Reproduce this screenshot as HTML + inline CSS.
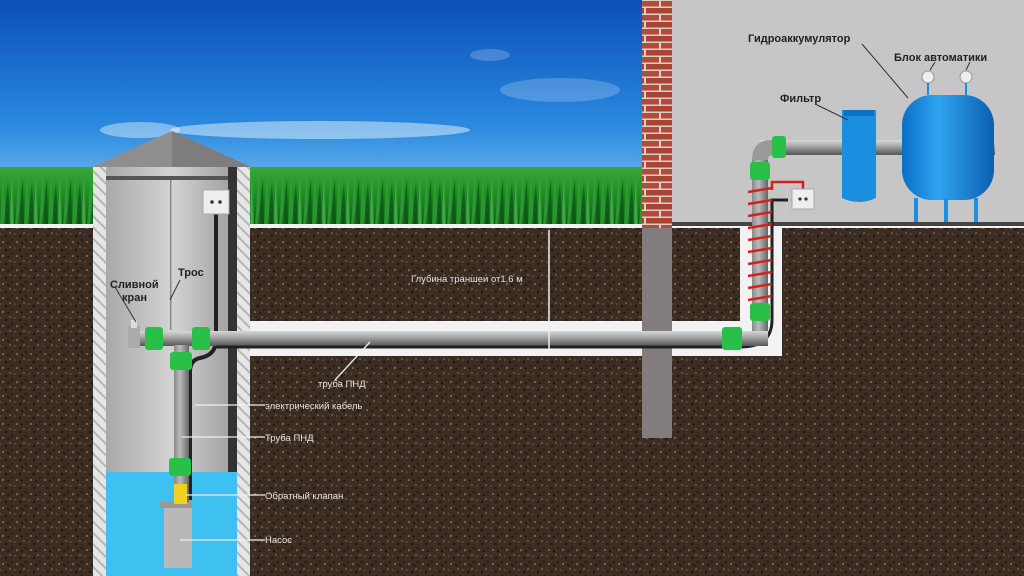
<!DOCTYPE html>
<html><head><meta charset="utf-8"><style>
html,body{margin:0;padding:0;width:1024px;height:576px;overflow:hidden}
svg{display:block}
text{font-family:"Liberation Sans",sans-serif}
</style></head><body>
<svg width="1024" height="576" viewBox="0 0 1024 576" xmlns="http://www.w3.org/2000/svg">
<defs>
<linearGradient id="sky" x1="0" y1="0" x2="0" y2="1">
<stop offset="0" stop-color="#0b4fb8"/><stop offset="0.55" stop-color="#2a8ae0"/><stop offset="1" stop-color="#9fd3f3"/></linearGradient>
<linearGradient id="grass" x1="0" y1="0" x2="0" y2="1">
<stop offset="0" stop-color="#3aa83a"/><stop offset="0.5" stop-color="#1f8a25"/><stop offset="1" stop-color="#0f5a18"/></linearGradient>
<pattern id="blades" width="24" height="58" patternUnits="userSpaceOnUse" x="0" y="167">
<rect width="24" height="58" fill="url(#grass)"/>
<path d="M0 58 L3 2 L6 58 Z M8 58 L13 8 L14 58 Z M15 58 L19 0 L21 58 Z" fill="#2fa035" opacity="0.8"/>
<path d="M4 58 L8 14 L10 58 Z M18 58 L23 10 L24 58 Z" fill="#0c4f14" opacity="0.7"/>
<path d="M11 58 L11 4 L13 58 Z" fill="#5cc050" opacity="0.6"/>
</pattern>
<linearGradient id="pipeH" x1="0" y1="0" x2="0" y2="1">
<stop offset="0" stop-color="#d8d8d8"/><stop offset="0.4" stop-color="#a8a8a8"/><stop offset="1" stop-color="#555"/></linearGradient>
<linearGradient id="pipeV" x1="0" y1="0" x2="1" y2="0">
<stop offset="0" stop-color="#888"/><stop offset="0.4" stop-color="#bbb"/><stop offset="1" stop-color="#666"/></linearGradient>
<linearGradient id="well" x1="0" y1="0" x2="1" y2="0">
<stop offset="0" stop-color="#a9a9a9"/><stop offset="0.5" stop-color="#d3d3d3"/><stop offset="1" stop-color="#9c9c9c"/></linearGradient>
<linearGradient id="tank" x1="0" y1="0" x2="1" y2="0">
<stop offset="0" stop-color="#0a6fc8"/><stop offset="0.4" stop-color="#2fa4f0"/><stop offset="1" stop-color="#0a5fb0"/></linearGradient>
<pattern id="hatch" width="8" height="8" patternUnits="userSpaceOnUse" patternTransform="rotate(-45)">
<rect width="8" height="8" fill="#e6e6e6"/><rect width="2" height="8" fill="#b5b5b5"/></pattern>
<pattern id="soil" width="14" height="14" patternUnits="userSpaceOnUse">
<rect width="14" height="14" fill="#3c2d23"/><circle cx="3" cy="4" r="1" fill="#8a7058"/><circle cx="10" cy="9" r="0.8" fill="#9c8268"/><circle cx="6" cy="12" r="1.2" fill="#1e1510"/><circle cx="12" cy="2" r="1" fill="#1e1510"/><circle cx="1" cy="10" r="0.7" fill="#7a6048"/><circle cx="8" cy="5" r="1.3" fill="#241a13"/></pattern>
<pattern id="brick" width="30" height="14" patternUnits="userSpaceOnUse">
<rect width="30" height="14" fill="#d9d0c8"/><rect x="1" y="1" width="28" height="5.5" fill="#b54a38"/><rect x="-14" y="8" width="28" height="5.5" fill="#a84432"/><rect x="16" y="8" width="28" height="5.5" fill="#a84432"/></pattern>
</defs>
<rect width="1024" height="230" fill="url(#sky)"/>
<ellipse cx="320" cy="130" rx="150" ry="9" fill="#fff" opacity="0.45"/>
<ellipse cx="140" cy="130" rx="40" ry="8" fill="#fff" opacity="0.4"/>
<ellipse cx="560" cy="90" rx="60" ry="12" fill="#fff" opacity="0.2"/>
<ellipse cx="490" cy="55" rx="20" ry="6" fill="#fff" opacity="0.2"/>
<rect x="0" y="167" width="1024" height="58" fill="url(#blades)"/>
<rect x="0" y="228" width="1024" height="348" fill="url(#soil)"/>
<rect x="0" y="224" width="1024" height="4" fill="#f2f2f2"/>
<rect x="672" y="0" width="352" height="222" fill="#c6c6c6"/>
<rect x="672" y="222" width="352" height="4" fill="#444"/>
<rect x="642" y="0" width="30" height="228" fill="url(#brick)"/>
<rect x="642" y="228" width="30" height="210" fill="#827c7c"/>
<rect x="250" y="321" width="392" height="35" fill="#f2f2f2"/>
<rect x="672" y="321" width="110" height="35" fill="#f2f2f2"/>
<rect x="740" y="228" width="42" height="128" fill="#f2f2f2"/>
<rect x="93" y="167" width="157" height="409" fill="url(#hatch)"/>
<rect x="106" y="167" width="131" height="409" fill="url(#well)"/>
<rect x="106" y="176" width="131" height="4" fill="#555"/>
<rect x="228" y="167" width="9" height="305" fill="#333"/>
<rect x="106" y="472" width="131" height="104" fill="#3ec0f0"/>
<rect x="170" y="180" width="1.5" height="150" fill="#888"/>
<polygon points="92,167 172,131 251,167" fill="#8e8e8e"/>
<polygon points="172,131 251,167 172,167" fill="#7d7d7d"/>
<path d="M216 210 V340 Q216 355 200 358 Q190 360 190 372 V500" stroke="#222" stroke-width="4" fill="none"/>
<rect x="203" y="190" width="26" height="24" fill="#eee" stroke="#aaa"/>
<circle cx="212" cy="202" r="1.8" fill="#333"/><circle cx="220" cy="202" r="1.8" fill="#333"/>
<rect x="140" y="331" width="595" height="15" fill="url(#pipeH)"/>
<path d="M216 347 H740" stroke="#222" stroke-width="3"/>
<path d="M740 347 Q772 347 772 320 V200 H788" stroke="#222" stroke-width="3" fill="none"/>
<rect x="174" y="345" width="15" height="160" fill="url(#pipeV)"/>
<rect x="164" y="502" width="28" height="66" fill="#b8b8b8"/>
<rect x="160" y="502" width="32" height="6" fill="#999"/>
<rect x="174" y="484" width="13" height="20" fill="#f0d020"/>
<rect x="145" y="327" width="18" height="23" rx="3" fill="#29c04a"/>
<rect x="192" y="327" width="18" height="23" rx="3" fill="#29c04a"/>
<rect x="170" y="352" width="22" height="18" rx="3" fill="#29c04a"/>
<rect x="169" y="458" width="22" height="18" rx="3" fill="#29c04a"/>
<rect x="128" y="326" width="12" height="22" fill="#aaa"/>
<rect x="131" y="320" width="6" height="8" fill="#ddd"/>
<rect x="752" y="160" width="16" height="175" fill="url(#pipeV)"/>
<rect x="735" y="331" width="33" height="15" fill="url(#pipeH)"/>
<rect x="760" y="140" width="235" height="15" fill="url(#pipeH)"/>
<path d="M752 160 Q752 140 772 140 L772 155 Q768 155 768 160 Z" fill="#999"/>
<g stroke="#d42020" stroke-width="2.5" fill="none">
<path d="M748 192 L772 188 M748 204 L772 200 M748 216 L772 212 M748 228 L772 224 M748 240 L772 236 M748 252 L772 248 M748 264 L772 260 M748 276 L772 272 M748 288 L772 284 M748 300 L772 296"/>
<path d="M772 190 V182 H803 V192"/>
</g>
<rect x="792" y="189" width="22" height="20" fill="#eee" stroke="#aaa"/>
<circle cx="800" cy="199" r="1.6" fill="#333"/><circle cx="806" cy="199" r="1.6" fill="#333"/>
<rect x="772" y="136" width="14" height="22" rx="3" fill="#29c04a"/>
<rect x="750" y="162" width="20" height="18" rx="3" fill="#29c04a"/>
<rect x="750" y="303" width="20" height="18" rx="3" fill="#29c04a"/>
<rect x="722" y="327" width="20" height="23" rx="3" fill="#29c04a"/>
<path d="M842 110 H876 V198 Q859 206 842 198 Z" fill="#1a8fe0"/>
<rect x="844" y="110" width="30" height="6" fill="#0d6fc0"/>
<rect x="902" y="95" width="92" height="105" rx="30" fill="url(#tank)"/>
<rect x="914" y="198" width="4" height="24" fill="#1a8fe0"/>
<rect x="944" y="198" width="4" height="24" fill="#1a8fe0"/>
<rect x="974" y="198" width="4" height="24" fill="#1a8fe0"/>
<circle cx="928" cy="77" r="6" fill="#eee" stroke="#999"/><circle cx="966" cy="77" r="6" fill="#eee" stroke="#999"/>
<rect x="927" y="83" width="2" height="12" fill="#1a8fe0"/><rect x="965" y="83" width="2" height="12" fill="#1a8fe0"/>
<path d="M549 230 V352" stroke="#eee" stroke-width="1.5"/>
<g stroke="#eee" stroke-width="1.3" fill="none">
<path d="M335 380 L370 342"/><path d="M195 405 H265"/><path d="M182 437 H265"/><path d="M186 495 H265"/><path d="M180 540 H265"/>
</g>
<g stroke="#333" stroke-width="1" fill="none">
<path d="M115 287 L136 322"/><path d="M170 300 L180 280"/>
<path d="M862 44 L908 98"/><path d="M815 104 L848 120"/><path d="M930 70 L935 62 M966 70 L970 62"/>
</g>
<g fill="#e6e6e6" font-size="9.5">
<text x="411" y="282">Глубина траншеи от1.6 м</text>
<text x="318" y="387">труба ПНД</text>
<text x="265" y="409">электрический кабель</text>
<text x="265" y="441">Труба ПНД</text>
<text x="265" y="499">Обратный клапан</text>
<text x="265" y="543">Насос</text>
</g>
<g fill="#222" font-size="11" font-weight="bold">
<text x="110" y="288">Сливной</text><text x="122" y="301">кран</text>
<text x="178" y="276">Трос</text>
<text x="748" y="42">Гидроаккумулятор</text>
<text x="894" y="61">Блок автоматики</text>
<text x="780" y="102">Фильтр</text>
</g>
</svg>
</body></html>
